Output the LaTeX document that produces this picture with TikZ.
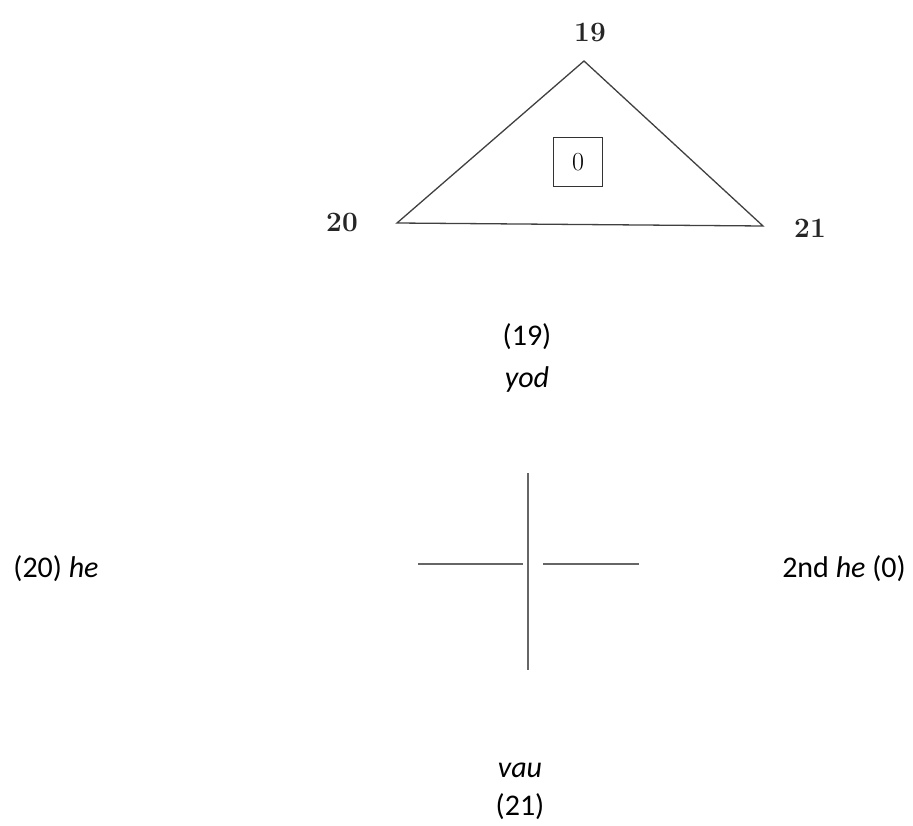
\documentclass[tikz,border=0pt]{standalone}
\usepackage{fontspec}
\newfontfamily\calibri{Carlito}
\usetikzlibrary{positioning}

\begin{document}
\begin{tikzpicture}[
    x=1pt, y=-1pt,
    numlabel/.style={font=\fontsize{28}{32}\selectfont\bfseries, text=black!85},
    caption/.style={font=\calibri\fontsize{30}{36}\selectfont, anchor=base},
    edge/.style={draw=black!75, line width=1.3pt},
    bar/.style={draw=black!60, line width=2pt}
]
\useasboundingbox (0,0) rectangle (913,826);

% triangle
\coordinate (top) at (584,61);
\coordinate (left) at (397,223);
\coordinate (right) at (763,226);
\node[numlabel] (n19) at (590,32) {19};
\node[numlabel] (n20) at (342,222) {20};
\node[numlabel] (n21) at (810,228) {21};
\node[draw=black!80, line width=1.6pt, minimum size=49pt, inner sep=0pt,
      font=\fontsize{26}{28}\selectfont] (zero) at (578,162) {0};

% cross
\coordinate (crosstop) at (528,473);
\coordinate (crossbot) at (528,670);
\coordinate (lfar) at (418,564);
\coordinate (lnear) at (523,564);
\coordinate (rnear) at (543,564);
\coordinate (rfar) at (639,564);

% captions
\node[caption] (c19) at (527,345) {(19)};
\node[caption] (yod) at (527,387) {\itshape yod};
\node[caption] (he) at (56,577) {(20) \textit{he}};
\node[caption] (he2) at (844,577) {2nd \textit{he} (0)};
\node[caption] (vau) at (520,777) {\itshape vau};
\node[caption] (c21) at (520,815) {(21)};

% Lines
\draw[edge] (top) -- (left) -- (right) -- cycle;
\draw[bar] (crosstop) -- (crossbot);
\draw[bar] (lfar) -- (lnear);
\draw[bar] (rnear) -- (rfar);

\end{tikzpicture}
\end{document}
